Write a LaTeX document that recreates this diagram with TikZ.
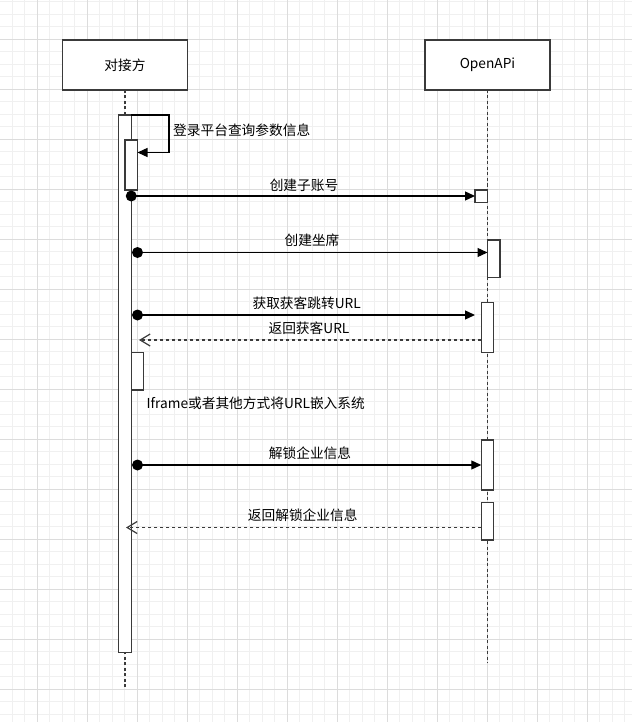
\documentclass[tikz,border=0pt]{standalone}
\usepackage{fontspec}
\setmainfont{Noto Sans CJK SC}
\usetikzlibrary{arrows.meta,calc}
\definecolor{gridminor}{HTML}{F0F0F0}
\definecolor{gridmajor}{HTML}{DCDCDC}
\definecolor{edge}{HTML}{3A3A3A}
\begin{document}
\begin{tikzpicture}[x=1pt,y=-1pt,
  every node/.style={font=\fontsize{13.7}{16}\selectfont, text=black},
  actor/.style={draw=edge, line width=1.5pt, fill=white, inner sep=0pt, outer sep=0pt, minimum width=125pt, minimum height=50pt, anchor=north west},
  act/.style={draw=edge, line width=1.3pt, fill=white, inner sep=0pt, outer sep=0pt, minimum width=12.5pt, anchor=north west},
  life/.style={draw=edge, line width=1.2pt, dash pattern=on 3pt off 2.5pt},
  msg/.style={draw=black, line width=1.3pt, -{Triangle[length=10pt,width=9pt]}},
  ret/.style={draw=edge, line width=1.2pt, dash pattern=on 3.5pt off 2.5pt, -{Straight Barb[length=10pt,width=12pt]}},
  dotmark/.style={fill=black},
  lbl/.style={inner sep=0pt},
]
\useasboundingbox (0,0) rectangle (632,722);
\fill[white] (0,0) rectangle (632,722);
% grid
\begin{scope}
\clip (0,0) rectangle (632,722);
\foreach \x in {0,...,50} \draw[gridminor, line width=0.8pt] ({12.3+12.5*\x},0) -- ({12.3+12.5*\x},722);
\foreach \y in {0,...,58} \draw[gridminor, line width=0.8pt] (0,{1.8+12.5*\y}) -- (632,{1.8+12.5*\y});
\foreach \x in {0,...,12} \draw[gridmajor, line width=0.8pt] ({37.3+50*\x},0) -- ({37.3+50*\x},722);
\foreach \y in {0,...,14} \draw[gridmajor, line width=0.8pt] (0,{39.3+50*\y}) -- (632,{39.3+50*\y});
\end{scope}

% actors
\node[actor] (djf) at (62.5,40) {对接方};
\node[actor] (api) at (425,40) {OpenAPi};

% lifelines
\coordinate (djfend) at (125,687);
\coordinate (apiend) at (487.5,663);
\draw[life] (djf.south) -- (djfend);
\draw[life] (api.south) -- (apiend);

% activations
\node[act, minimum height=537.5pt] (d0) at (118.75,115) {};
\node[act, minimum height=50pt] (d1) at (125,140) {};
\node[act, minimum height=37.5pt] (d2) at (131.25,352.5) {};
\node[act, minimum height=12.5pt] (o1) at (475,190) {};
\node[act, minimum height=37.5pt] (o2) at (487.5,240) {};
\node[act, minimum height=50pt] (o3) at (481.25,302.5) {};
\node[act, minimum height=50pt] (o4) at (481.25,440) {};
\node[act, minimum height=37.5pt] (o5) at (481.25,502.5) {};

% self message
\coordinate (s0) at (131.25,115);
\coordinate (s1) at (169,115);
\coordinate (s2) at (169,152.5);
\draw[msg] (s0) -- (s1) -- (s2) -- (s2 -| d1.east);
\node[lbl, anchor=west] (sl) at (173,130) {登录平台查询参数信息};

% message 1
\coordinate (m1s) at (131.25,196);
\draw[msg] (m1s) -- (m1s -| o1.west);
\fill[dotmark] (m1s) circle (5.5pt);
\node[lbl] (l1) at (304,185) {创建子账号};

% message 2
\coordinate (m2s) at (137.5,252.5);
\draw[msg] (m2s) -- (m2s -| o2.west);
\fill[dotmark] (m2s) circle (5.5pt);
\node[lbl] (l2) at (312,240.5) {创建坐席};

% message 3
\coordinate (m3s) at (137.5,315);
\coordinate (m3e) at (475,315);
\draw[msg] (m3s) -- (m3e);
\fill[dotmark] (m3s) circle (5.5pt);
\node[lbl] (l3) at (306.7,303.3) {获取获客跳转URL};

% return 1
\coordinate (r1s) at (481.25,340);
\coordinate (r1e) at (139,340);
\draw[ret] (r1s) -- (r1e);
\node[lbl] (l4) at (309,328.3) {返回获客URL};

% note
\node[lbl, anchor=west] (l5) at (146.5,403.3) {Iframe或者其他方式将URL嵌入系统};

% message 4
\coordinate (m4s) at (137.5,465);
\draw[msg] (m4s) -- (m4s -| o4.west);
\fill[dotmark] (m4s) circle (5.5pt);
\node[lbl] (l6) at (310,453.3) {解锁企业信息};

% return 2
\coordinate (r2s) at (481.25,527.5);
\coordinate (r2e) at (126,527.5);
\draw[ret] (r2s) -- (r2e);
\node[lbl] (l7) at (302.7,515) {返回解锁企业信息};
\end{tikzpicture}
\end{document}
